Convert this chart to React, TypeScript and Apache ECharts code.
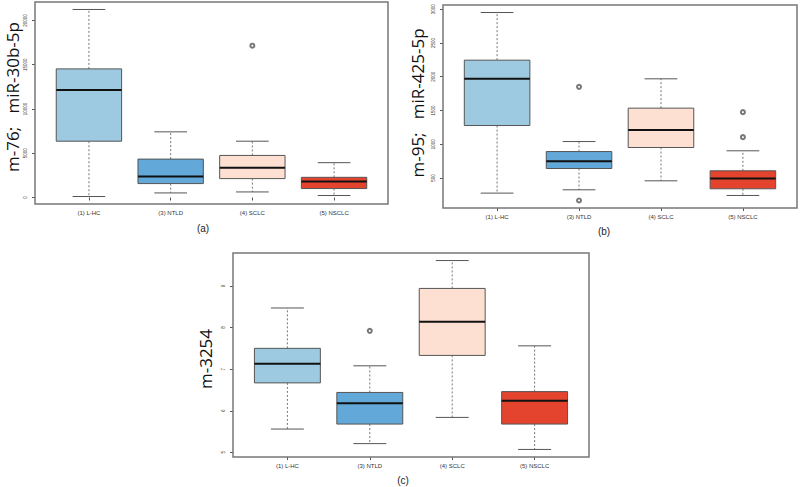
import React, { useEffect, useRef } from "react";
import * as echarts from "echarts";

const categories = ["(1) L-HC", "(3) NTLD", "(4) SCLC", "(5) NSCLC"];
const boxColors = ["#9ecae1", "#62a8d8", "#fde0d2", "#e4442e"];

// [low whisker, Q1, median, Q3, high whisker]
const boxA = [
  [112, 6360, 12135, 14528, 21236],
  [517, 1573, 2360, 4337, 7416],
  [629, 2135, 3371, 4753, 6360],
  [225, 1011, 1798, 2281, 3933],
];
const outA = [[2, 17146]];
const ticksA = [0, 5000, 10000, 15000, 20000];

const boxB = [
  [278, 1278, 1969, 2245, 2950],
  [327, 642, 751, 893, 1041],
  [460, 953, 1210, 1535, 1969],
  [243, 342, 494, 608, 904],
];
const outB = [[1, 1850], [1, 169], [3, 1476], [3, 1106]];
const ticksB = [500, 1000, 1500, 2000, 2500, 3000];

const boxC = [
  [5.56, 6.67, 7.13, 7.5, 8.47],
  [5.21, 5.68, 6.18, 6.44, 7.08],
  [5.84, 7.33, 8.14, 8.94, 9.61],
  [5.07, 5.68, 6.24, 6.46, 7.56],
];
const outC = [[1, 7.92]];
const ticksC = [5, 6, 7, 8, 9];

const titleA = "m-76;\u00a0\u00a0\u00a0miR-30b-5p";
const titleB = "m-95;\u00a0\u00a0\u00a0miR-425-5p";
const titleC = "m-3254";

function range(boxes: number[][], outs: number[][]) {
  const vals = boxes.flat().concat(outs.map((o) => o[1]));
  const mn = Math.min(...vals);
  const mx = Math.max(...vals);
  const pad = (mx - mn) * 0.04;
  return [mn - pad, mx + pad];
}

const renderBox = (params: any, api: any) => {
  const idx = api.value(0);
  const low = api.value(1);
  const q1 = api.value(2);
  const med = api.value(3);
  const q3 = api.value(4);
  const high = api.value(5);
  const pLow = api.coord([idx, low]);
  const pQ1 = api.coord([idx, q1]);
  const pMed = api.coord([idx, med]);
  const pQ3 = api.coord([idx, q3]);
  const pHigh = api.coord([idx, high]);
  const band = api.size([1, 0])[0];
  const bw = band * 0.8;
  const cx = pLow[0];
  const cap = bw / 4;
  const dash = { stroke: "#666", lineWidth: 0.9, lineDash: [2, 2] };
  const solid = { stroke: "#555", lineWidth: 1 };
  return {
    type: "group",
    children: [
      { type: "line", shape: { x1: cx, y1: pQ3[1], x2: cx, y2: pHigh[1] }, style: dash },
      { type: "line", shape: { x1: cx, y1: pQ1[1], x2: cx, y2: pLow[1] }, style: dash },
      { type: "line", shape: { x1: cx - cap, y1: pHigh[1], x2: cx + cap, y2: pHigh[1] }, style: solid },
      { type: "line", shape: { x1: cx - cap, y1: pLow[1], x2: cx + cap, y2: pLow[1] }, style: solid },
      {
        type: "rect",
        shape: { x: cx - bw / 2, y: pQ3[1], width: bw, height: pQ1[1] - pQ3[1] },
        style: { fill: boxColors[params.dataIndex], stroke: "#555", lineWidth: 1 },
      },
      {
        type: "line",
        shape: { x1: cx - bw / 2, y1: pMed[1], x2: cx + bw / 2, y2: pMed[1] },
        style: { stroke: "#111", lineWidth: 2 },
      },
    ],
  };
};

const panels = [
  { boxes: boxA, outs: outA, ticks: ticksA, frame: [35, 2, 353, 202] },
  { boxes: boxB, outs: outB, ticks: ticksB, frame: [443, 5, 354, 203] },
  { boxes: boxC, outs: outC, ticks: ticksC, frame: [233, 253, 356, 204] },
];

export default function App() {
  const ref = useRef<HTMLDivElement>(null);
  useEffect(() => {
    if (!ref.current) return;
    const chart = echarts.init(ref.current, null, { renderer: "svg" });
    const grids: any[] = [];
    const xAxes: any[] = [];
    const yAxes: any[] = [];
    const series: any[] = [];
    const graphics: any[] = [];
    panels.forEach((p, i) => {
      const [fx, fy, fw, fh] = p.frame;
      const unit = fw / 4.32;
      const inset = unit * 0.16;
      grids.push({ left: fx + inset, top: fy, width: fw - 2 * inset, height: fh });
      xAxes.push({
        type: "category",
        gridIndex: i,
        data: categories,
        axisLine: { show: false },
        axisTick: { show: true, alignWithLabel: true, length: 3, lineStyle: { color: "#555" } },
        axisLabel: { fontSize: 6, color: "#333", margin: 6, fontFamily: "Liberation Sans" },
      });
      const [mn, mx] = range(p.boxes, p.outs);
      yAxes.push({
        type: "value",
        gridIndex: i,
        min: mn,
        max: mx,
        offset: inset,
        splitLine: { show: false },
        axisLine: { show: false },
        axisTick: { show: true, length: 3, customValues: p.ticks, lineStyle: { color: "#555" } },
        axisLabel: {
          customValues: p.ticks,
          formatter: (v: number) => String(v),
          rotate: 90,
          fontSize: 4.5,
          color: "#333",
          margin: 7,
          fontFamily: "Liberation Sans",
        },
      });
      series.push({
        type: "custom",
        xAxisIndex: i,
        yAxisIndex: i,
        renderItem: renderBox,
        encode: { x: 0, y: [1, 2, 3, 4, 5] },
        data: p.boxes.map((b, k) => [k, ...b]),
        z: 2,
      });
      series.push({
        type: "scatter",
        xAxisIndex: i,
        yAxisIndex: i,
        symbol: "emptyCircle",
        symbolSize: 4,
        itemStyle: { color: "#555", borderWidth: 0.6 },
        data: p.outs.map((o) => [o[0], o[1]]),
        z: 3,
      });
      graphics.push({
        type: "rect",
        shape: { x: fx, y: fy, width: fw, height: fh },
        style: { fill: "none", stroke: "#777", lineWidth: 1.5 },
        z: 10,
      });
    });
    const titleFont = { fontSize: 17, fontFamily: "Open Sans", fill: "#111", align: "center", verticalAlign: "middle" };
    graphics.push(
      { type: "text", x: 12, y: 97, rotation: Math.PI / 2, style: { text: titleA, ...titleFont } },
      { type: "text", x: 417, y: 103, rotation: Math.PI / 2, style: { text: titleB, ...titleFont } },
      { type: "text", x: 205, y: 359, rotation: Math.PI / 2, style: { text: titleC, ...titleFont } },
      { type: "text", x: 203, y: 228, style: { text: "(a)", fontSize: 10, fontFamily: "Liberation Sans", fill: "#222", align: "center", verticalAlign: "middle" } },
      { type: "text", x: 604, y: 231, style: { text: "(b)", fontSize: 10, fontFamily: "Liberation Sans", fill: "#222", align: "center", verticalAlign: "middle" } },
      { type: "text", x: 403, y: 480, style: { text: "(c)", fontSize: 10, fontFamily: "Liberation Sans", fill: "#222", align: "center", verticalAlign: "middle" } }
    );
    chart.setOption({
      animation: false,
      backgroundColor: "#fff",
      grid: grids,
      xAxis: xAxes,
      yAxis: yAxes,
      series,
      graphic: graphics,
    });
    return () => chart.dispose();
  }, []);
  return <div ref={ref} style={{ position: "fixed", left: 0, top: 0, width: 800, height: 487 }} />;
}
